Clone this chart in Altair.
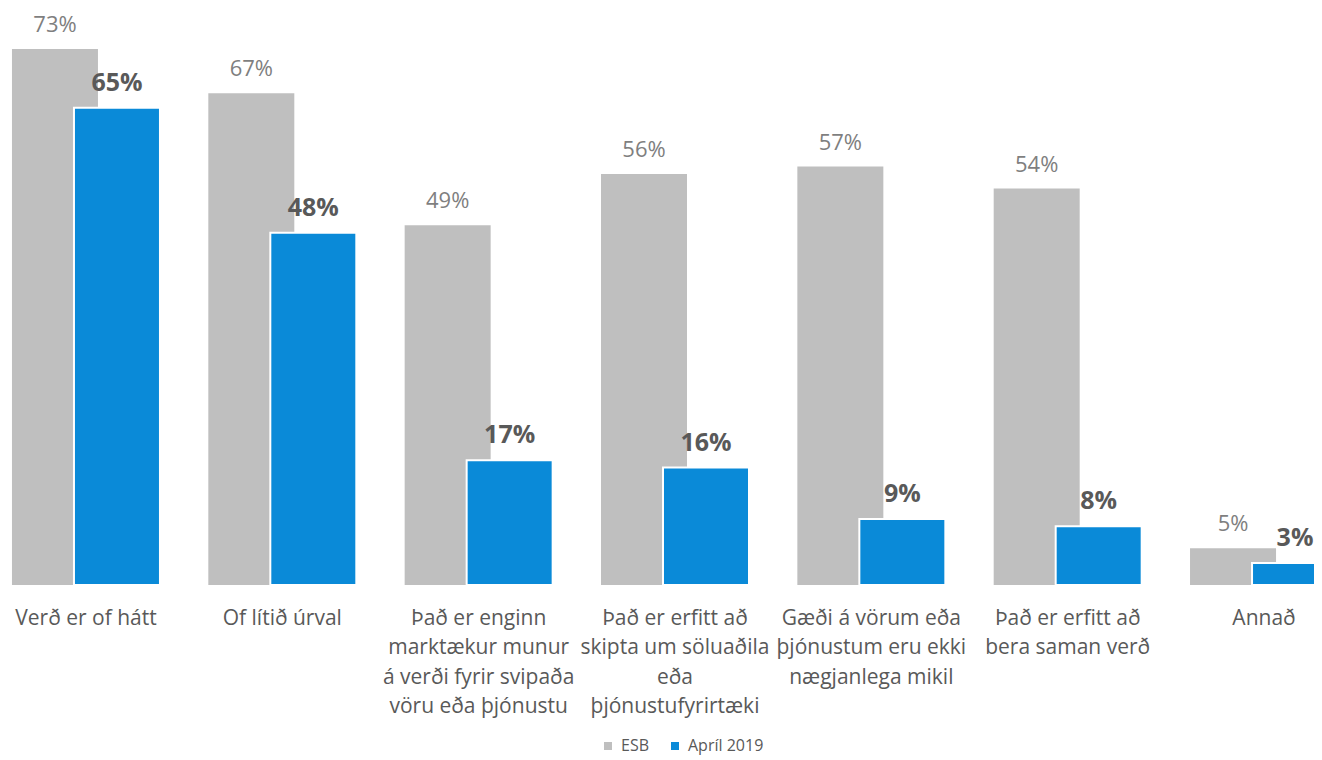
import altair as alt
import pandas as pd

categories = [
    "Verð er of hátt",
    "Of lítið úrval",
    "Það er enginn|marktækur munur|á verði fyrir svipaða|vöru eða þjónustu",
    "Það er erfitt að|skipta um söluaðila|eða|þjónustufyrirtæki",
    "Gæði á vörum eða|þjónustum eru ekki|nægjanlega mikil",
    "Það er erfitt að|bera saman verð",
    "Annað",
]
series = ["ESB", "Apríl 2019"]
esb = [73, 67, 49, 56, 57, 54, 5]
april = [65, 48, 17, 16, 9, 8, 3]

rows = []
for c, v in zip(categories, esb):
    rows.append({"cat": c, "series": "ESB", "value": v, "label": f"{v}%"})
for c, v in zip(categories, april):
    rows.append({"cat": c, "series": "Apríl 2019", "value": v, "label": f"{v}%"})
df = pd.DataFrame(rows)

FONT = "Open Sans"
x = alt.X(
    "cat:N",
    sort=categories,
    title=None,
    scale=alt.Scale(range=[-20.2, 1354.2], paddingInner=0, paddingOuter=0),
    axis=alt.Axis(
        labelAngle=0,
        domain=False,
        ticks=False,
        labelFont=FONT,
        labelFontSize=21,
        labelColor="#595959",
        labelLimit=400,
        labelOverlap=False,
        labelPadding=22,
        labelLineHeight=29.5,
        labelBaseline="top",
        labelExpr="split(datum.label, '|')",
    ),
)
y = alt.Y("value:Q", title=None, axis=None,
          scale=alt.Scale(domain=[0, 78.6], nice=False, zero=True))
color = alt.Color(
    "series:N",
    scale=alt.Scale(domain=series, range=["#BFBFBF", "#0A8AD8"]),
    legend=alt.Legend(
        title=None,
        orient="none",
        direction="horizontal",
        legendX=592,
        legendY=730,
        symbolType="square",
        symbolSize=64,
        symbolStrokeWidth=0,
        labelFont=FONT,
        labelFontSize=16,
        labelColor="#595959",
        labelOffset=5,
        columnPadding=18,
    ),
)

base = alt.Chart(df).encode(x=x, y=y)

gray_bars = base.transform_filter(alt.datum.series == "ESB").mark_bar(
    width=86, xOffset=-31
).encode(color=color)
blue_bars = base.transform_filter(alt.datum.series == "Apríl 2019").mark_bar(
    width=86, xOffset=31, stroke="white", strokeWidth=2
).encode(color=color)
gray_text = base.transform_filter(alt.datum.series == "ESB").mark_text(
    xOffset=-31, dy=-17, baseline="alphabetic", font=FONT, fontSize=22, color="#7F7F7F"
).encode(text="label:N")
blue_text = base.transform_filter(alt.datum.series == "Apríl 2019").mark_text(
    xOffset=31, dy=-17, baseline="alphabetic", font=FONT, fontSize=25,
    fontWeight="bold", color="#595959"
).encode(text="label:N")

chart = alt.layer(gray_bars, blue_bars, gray_text, blue_text).properties(
    width=1306,
    height=577,
    autosize=alt.AutoSizeParams(type="none"),
    padding={"left": 0, "top": 0, "right": 0, "bottom": 174},
).configure_view(stroke=None)

chart.save("out.html", embed_options={"renderer": "svg", "actions": False})
